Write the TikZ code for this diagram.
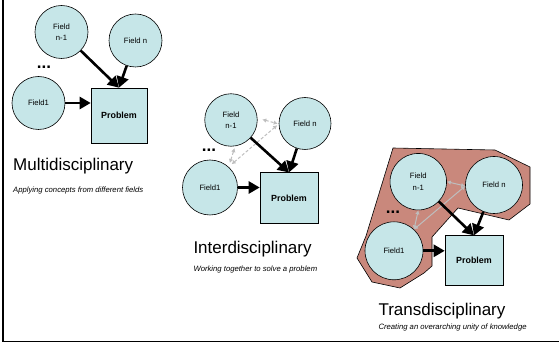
\documentclass[tikz,border=0pt]{standalone}
\usepackage{fontspec}
\setmainfont{Liberation Sans}
\usetikzlibrary{arrows.meta}
\definecolor{fieldfill}{RGB}{198,230,232}
\definecolor{blobfill}{RGB}{201,136,124}
\definecolor{linkgray}{RGB}{190,190,190}
\begin{document}
\begin{tikzpicture}[x=1pt,y=1pt,yscale=-1,
  field/.style={circle, draw=black, line width=0.6pt, fill=fieldfill, inner sep=0pt, align=center, font=\fontsize{7.7}{11.5}\selectfont},
  problembox/.style={rectangle, draw=black, line width=0.6pt, fill=fieldfill, inner sep=0pt, font=\fontsize{8.9}{10}\selectfont\bfseries},
  flow/.style={line width=2.6pt, -{Triangle[length=11pt 0 0,width=12pt 0 0]}},
  link/.style={draw=linkgray, line width=1pt, {Latex[length=4pt 0 0,width=4.5pt 0 0]}-{Latex[length=4pt 0 0,width=4.5pt 0 0]}},
  dashedlink/.style={link, dash pattern=on 3pt off 2pt},
  titletext/.style={anchor=base west, font=\fontsize{17}{20}\selectfont, inner sep=0pt},
  subtitletext/.style={anchor=base west, font=\fontsize{7.7}{9}\selectfont\itshape, inner sep=0pt},
  dotstext/.style={font=\fontsize{17}{20}\selectfont\bfseries, inner sep=0pt}
]
\useasboundingbox (0,0) rectangle (559,344);
% frame
\coordinate (ftop) at (2.8,0);
\coordinate (fcorner) at (2.8,341.5);
\coordinate (fright) at (559,341.5);
\draw[line width=1.5pt] (ftop) -- (fcorner) -- (fright);

% ---------- Multidisciplinary ----------
\node[field, minimum size=53pt] (an1) at (61.5,32) {Field\\n-1};
\node[field, minimum size=53pt] (ann) at (135.5,40.5) {Field n};
\node[field, minimum size=53pt] (af1) at (38.5,103) {Field1};
\node[problembox, minimum width=56pt, minimum height=55pt] (ap) at (119,115.5) {Problem};
\node[dotstext] (adots) at (44,67.5) {...};
\draw[flow] (an1) -- (ap.north);
\draw[flow] (ann) -- (ap.north);
\draw[flow] (af1) -- (af1 -| ap.west);
\node[titletext] (at) at (13,170.5) {Multidisciplinary};
\node[subtitletext] (as) at (13,192.2) {Applying concepts from different fields};

% ---------- Interdisciplinary ----------
\node[field, minimum size=52.5pt] (bn1) at (231,120) {Field\\n-1};
\node[field, minimum size=52pt] (bnn) at (305,123.5) {Field n};
\node[field, minimum size=55pt] (bf1) at (210,187.5) {Field1};
\node[problembox, minimum width=58pt, minimum height=50.5pt] (bp) at (289,198) {Problem};
\node[dotstext] (bdots) at (209,150) {...};
\draw[dashedlink, shorten <=4pt, shorten >=2pt] (bf1.48) -- (bn1.-81);
\draw[dashedlink, shorten <=4pt, shorten >=2pt] (bf1.48) -- (bnn.181);
\draw[dashedlink, shorten <=5pt, shorten >=1pt] (bn1.4) -- (bnn.181);
\draw[flow] (bn1) -- (bp.north);
\draw[flow] (bnn) -- (bp.north);
\draw[flow] (bf1) -- (bf1 -| bp.west);
\node[titletext] (bt) at (193.3,254) {Interdisciplinary};
\node[subtitletext] (bs) at (193.3,272) {Working together to solve a problem};

% ---------- Transdisciplinary ----------
\draw[fill=blobfill, line width=0.6pt] (393,148) -- (495,150) -- (530,167) -- (530,204) -- (509,220) -- (458,208) -- (432,237) -- (432,266) -- (424,273) -- (400,288) -- (372,282) -- (357,258) -- (366,236) -- cycle;
\node[field, minimum size=56.5pt] (cn1) at (418.3,181.7) {Field\\n-1};
\node[field, minimum size=57pt] (cnn) at (494,185) {Field n};
\node[field, minimum size=58pt] (cf1) at (394,250.8) {Field1};
\node[problembox, minimum width=58pt, minimum height=50pt] (cp) at (474,260.7) {Problem};
\node[dotstext] (cdots) at (393,212) {...};
\draw[link] (cf1.47) -- (cn1.-90);
\draw[link] (cf1.47) -- (cnn.182);
\draw[link] (cn1.0) -- (cnn.182);
\draw[flow] (cn1) -- (cp.north);
\draw[flow] (cnn) -- (cp.north);
\draw[flow] (cf1) -- (cf1 -| cp.west);
\node[titletext] (ct) at (378.3,315.5) {Transdisciplinary};
\node[subtitletext] (cs) at (378.3,329.5) {Creating an overarching unity of knowledge};
\end{tikzpicture}
\end{document}
